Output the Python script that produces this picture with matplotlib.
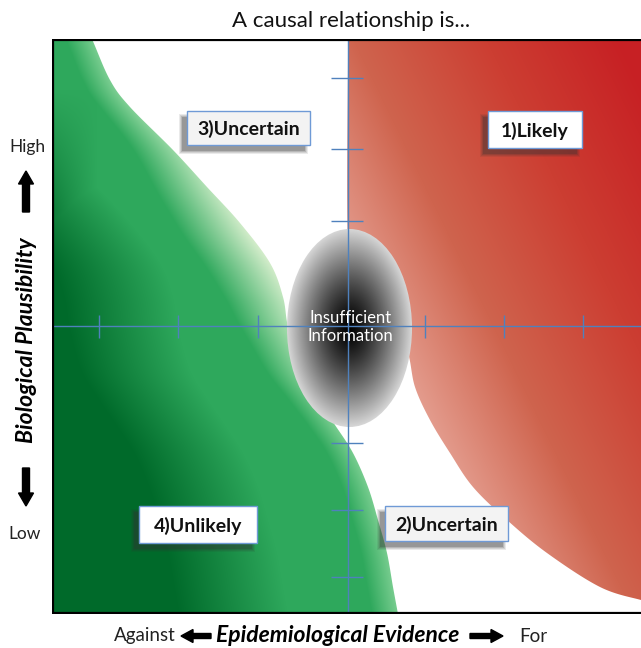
import numpy as np
import matplotlib
matplotlib.use("Agg")
import matplotlib.pyplot as plt
from matplotlib.patches import Ellipse, Rectangle, Polygon, FancyArrow

plt.rcParams['font.family'] = ['Lato', 'DejaVu Sans']

# ---------------- content -----------------
title = "A causal relationship is..."
x_label = "Epidemiological Evidence"
x_low, x_high = "Against", "For"
y_label = "Biological Plausibility"
y_low, y_high = "Low", "High"
center_label = "Insufficient\nInformation"
quadrant_labels = ["1)Likely", "2)Uncertain", "3)Uncertain", "4)Unlikely"]
quadrant_cx = [535, 446.5, 248.5, 198]
quadrant_cy = [129.5, 523.5, 128, 524.5]
quadrant_w = [94, 123, 123, 118]
quadrant_h = [37, 35, 34, 37]
quadrant_fill = ["#ffffff", "#f3f3f3", "#f3f3f3", "#ffffff"]

evidence_ticks = [99, 178, 258, 425, 504, 583]
plausibility_ticks = [78, 149, 221, 443, 510, 577]

# region boundaries (diagram space: x right, y down)
green_edge_x = [92, 110, 130, 173, 207, 240, 270, 283, 288, 300, 318, 335, 353, 368, 378, 387, 393, 398]
green_edge_y = [39, 80, 107, 150, 187, 223, 263, 297, 327, 370, 400, 425, 453, 487, 520, 553, 587, 614]
red_edge_x = [348, 348, 360, 395, 408, 415, 430, 450, 473, 507, 547, 600, 641, 660]
red_edge_y = [39, 250, 290, 325, 353, 387, 420, 453, 487, 520, 553, 587, 600, 604]

X0, X1, Y0, Y1 = 52, 641, 39, 614
CX, CY = 348, 326
ell_cx, ell_cy, ell_w, ell_h = 349.5, 328, 125, 198


def smooth(xs, ys, n=24):
    P = np.column_stack([xs, ys]).astype(float)
    P = np.vstack([2 * P[0] - P[1], P, 2 * P[-1] - P[-2]])
    out = []
    t = np.linspace(0, 1, n, endpoint=False)[:, None]
    for i in range(1, len(P) - 2):
        p0, p1, p2, p3 = P[i - 1], P[i], P[i + 1], P[i + 2]
        out.append(0.5 * ((2 * p1) + (-p0 + p2) * t + (2 * p0 - 5 * p1 + 4 * p2 - p3) * t ** 2
                          + (-p0 + 3 * p1 - 3 * p2 + p3) * t ** 3))
    out.append(P[-2][None, :])
    return np.vstack(out)


def ramp(v, stops, cols):
    cols = np.array(cols, float) / 255.0
    return np.stack([np.interp(v, stops, cols[:, k]) for k in range(3)], axis=-1)


fig = plt.figure(figsize=(6.41, 6.48), dpi=100)
ax = fig.add_axes([X0 / 641, 1 - Y1 / 648, (X1 - X0) / 641, (Y1 - Y0) / 648])
ax.set_xlim(X0, X1)
ax.set_ylim(Y1, Y0)
ax.axis('off')

gx = np.arange(X0, X1) + 0.5
gy = np.arange(Y0, Y1) + 0.5
GX, GY = np.meshgrid(gx, gy)
extent = (X0, X1, Y1, Y0)

# ---- green region ----
gcurve = smooth(green_edge_x, green_edge_y)
order = np.argsort(gcurve[:, 1])
bx = np.interp(GY, gcurve[order, 1], gcurve[order, 0])
d = bx - GX
w = np.exp(-((GY - 250) / 95.0) ** 2)
pz = 26 + 42 * w                      # width of the pale zone next to the edge
pale = np.array([212, 237, 203]) / 255.0
edge = np.array([118, 204, 142]) / 255.0
L = w[..., None] * pale + (1 - w[..., None]) * edge
med = np.array([46, 168, 92]) / 255.0
dark = np.array([0, 106, 42]) / 255.0
a = np.clip(d / pz, 0, 1)[..., None]
b = np.clip((d - 110) / 110.0, 0, 1)
b = np.maximum(b, 0.7 * np.clip(1 - (GX - X0) / 45.0, 0, 1) * np.clip((GY - 90) / 120, 0, 1))[..., None]
base = L * (1 - a) + med * a
green_img = base * (1 - b) + dark * b
gpoly = np.vstack([[[30, 20], [92, 20]], gcurve, [[400, 640], [30, 640]]])
gpatch = Polygon(gpoly, closed=True, facecolor='none', edgecolor='none')
ax.add_patch(gpatch)
im = ax.imshow(green_img, extent=extent, origin='upper', interpolation='bilinear', zorder=1)
im.set_clip_path(gpatch)

# ---- red region ----
rcurve = smooth(red_edge_x, red_edge_y)
u = 0.9 * GX - 0.44 * GY
red_img = ramp(u, [180, 300, 420, 540], [(232, 168, 155), (207, 100, 78), (204, 62, 50), (199, 32, 36)])
rpoly = np.vstack([[[348, 20]], rcurve, [[680, 604], [680, 20]]])
rpatch = Polygon(rpoly, closed=True, facecolor='none', edgecolor='none')
ax.add_patch(rpatch)
im2 = ax.imshow(red_img, extent=extent, origin='upper', interpolation='bilinear', zorder=1)
im2.set_clip_path(rpatch)

# ---- ellipse ----
r = np.sqrt(((GX - ell_cx) / (ell_w / 2)) ** 2 + ((GY - ell_cy) / (ell_h / 2)) ** 2)
v = 215 / 255.0 * np.clip(r, 0, 1) ** 1.3
ell_img = np.stack([v, v, v], axis=-1)
epatch = Ellipse((ell_cx, ell_cy), ell_w, ell_h, facecolor='none', edgecolor='none')
ax.add_patch(epatch)
im3 = ax.imshow(ell_img, extent=extent, origin='upper', interpolation='bilinear', zorder=2)
im3.set_clip_path(epatch)

# ---- blue cross and ticks ----
blue = '#4f81bd'
ax.plot([CX, CX], [Y0, Y1], color=blue, lw=1.0, zorder=3)
ax.plot([X0, X1], [CY, CY], color=blue, lw=1.0, zorder=3)
ax.vlines(evidence_ticks, 315, 338, color=blue, lw=1.0, zorder=3)
ax.hlines(plausibility_ticks, 331, 363, color=blue, lw=1.0, zorder=3)

ax.text(ell_cx + 1, CY + 1, center_label, color='white', ha='center', va='center',
        fontsize=12, linespacing=1.1, zorder=4)

# ---- quadrant boxes ----
for lab, cx, cy, bw, bh, fc in zip(quadrant_labels, quadrant_cx, quadrant_cy, quadrant_w, quadrant_h, quadrant_fill):
    for k, al in enumerate([0.10, 0.13, 0.17, 0.24]):
        g = 3 - k
        ax.add_patch(Rectangle((cx - bw / 2 - 5 - g, cy - bh / 2 + 6 - g), bw + 2 * g, bh + 2 * g,
                               facecolor='#333333', edgecolor='none', alpha=al, zorder=5))
    ax.add_patch(Rectangle((cx - bw / 2, cy - bh / 2), bw, bh, facecolor=fc,
                           edgecolor='#6f9ad6', lw=1.0, zorder=6))
    ax.text(cx, cy + 1, lab, ha='center', va='center', fontsize=14, fontweight='bold',
            color='#111111', zorder=7)

# ---- frame ----
ax.plot([X0 + 1, X0 + 1], [Y0, Y1], color='black', lw=1.6, zorder=8, solid_capstyle='butt')
ax.plot([X0, X1], [Y0 + 0.8, Y0 + 0.8], color='black', lw=1.6, zorder=8)
ax.plot([X0, X1], [Y1 - 0.8, Y1 - 0.8], color='black', lw=1.6, zorder=8)

# ---- overlay for outside texts ----
ov = fig.add_axes([0, 0, 1, 1], zorder=-1)
ov.set_xlim(0, 641)
ov.set_ylim(648, 0)
ov.axis('off')

ov.text(351, 21, title, ha='center', va='center', fontsize=16, color='#111111')
ov.text(27, 147, y_high, ha='center', va='center', fontsize=12.5, color='#222222')
ov.text(25, 534, y_low, ha='center', va='center', fontsize=12.5, color='#222222')
ov.text(27, 340, y_label, ha='center', va='center', rotation=90, fontsize=16.5,
        fontweight='bold', fontstyle='italic', color='black')
ov.add_patch(FancyArrow(26, 212, 0, -41, width=7, head_width=15, head_length=13,
                        length_includes_head=True, color='black'))
ov.add_patch(FancyArrow(26, 468, 0, 38, width=7, head_width=15, head_length=13,
                        length_includes_head=True, color='black'))

ov.text(176, 636, x_low, ha='right', va='center', fontsize=13.5, color='#222222')
ov.text(519, 636, x_high, ha='left', va='center', fontsize=13.5, color='#222222')
ov.text(338, 636, x_label, ha='center', va='center', fontsize=16.5, fontweight='bold',
        fontstyle='italic', color='black')
ov.add_patch(FancyArrow(211, 636, -30, 0, width=5, head_width=13, head_length=12,
                        length_includes_head=True, color='black'))
ov.add_patch(FancyArrow(470, 636, 33, 0, width=5, head_width=13, head_length=12,
                        length_includes_head=True, color='black'))

fig.savefig('out.png', dpi=100, facecolor='white')
